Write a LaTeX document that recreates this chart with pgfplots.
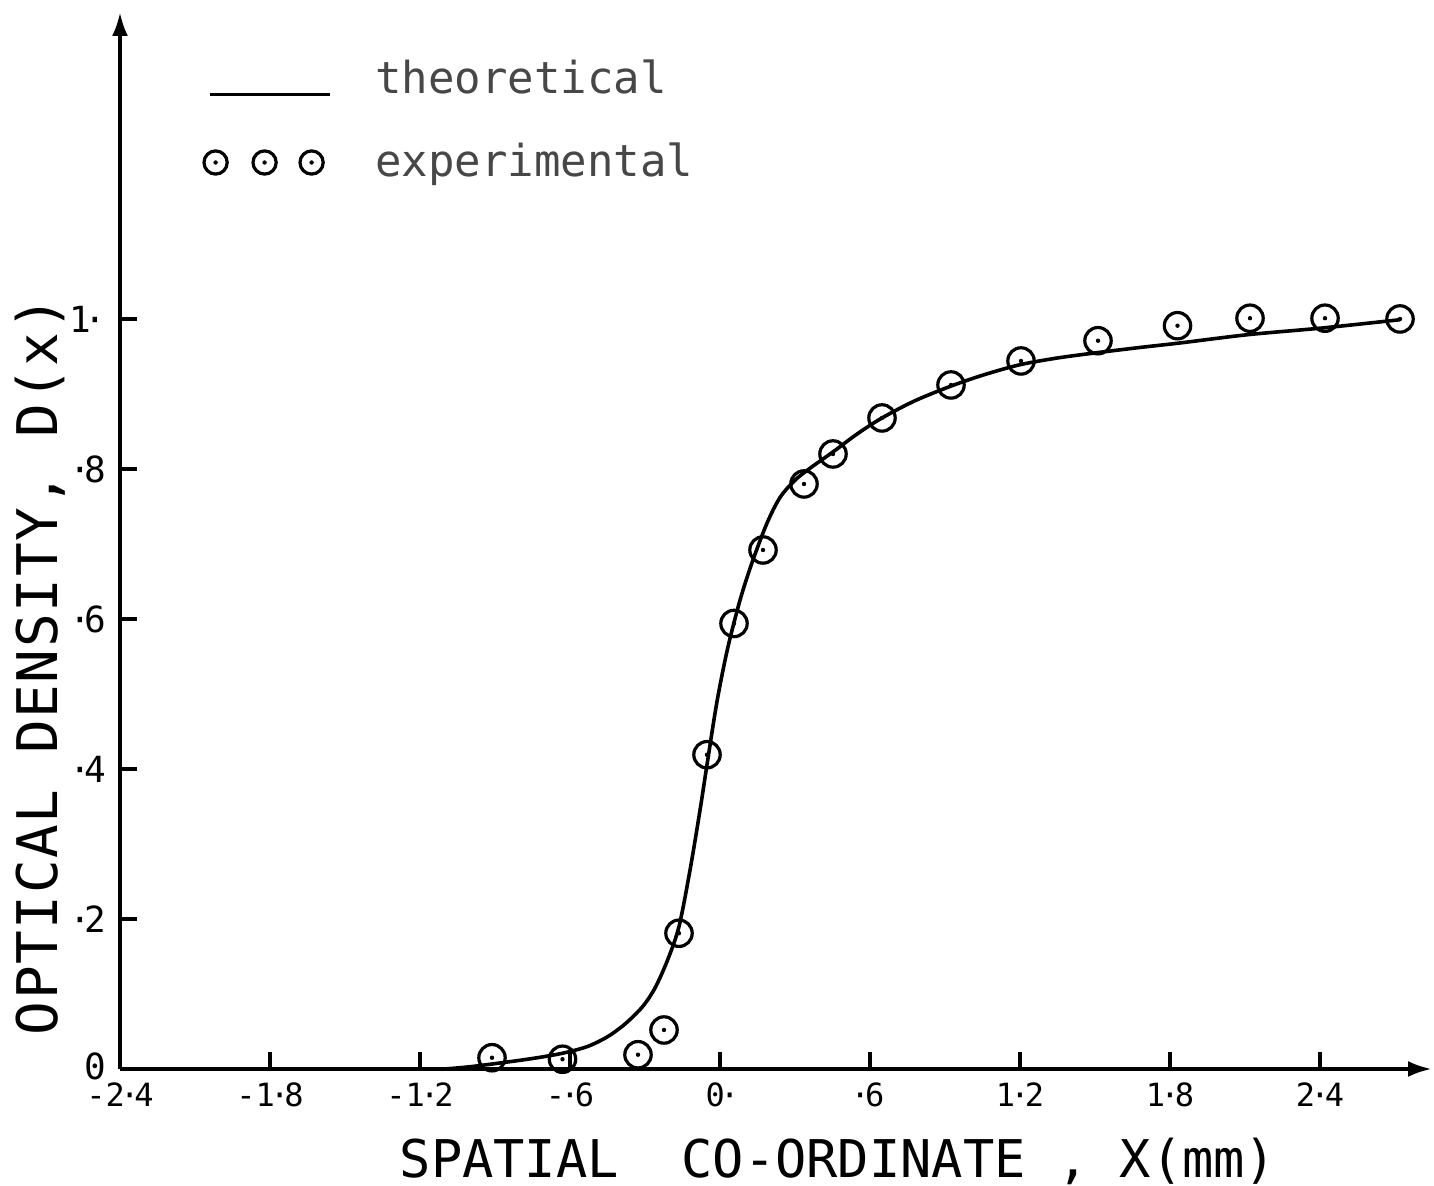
\documentclass[border=0pt]{standalone}
\usepackage{fontspec}
\setmonofont{DejaVu Sans Mono}
\usepackage{pgfplots}
\pgfplotsset{compat=1.18}
\usetikzlibrary{arrows.meta}
\pgfdeclareplotmark{odot}{%
  \pgfpathcircle{\pgfpointorigin}{\pgfplotmarksize}\pgfusepathqstroke
  \pgfpathcircle{\pgfpointorigin}{0.55pt}\pgfusepathqfill}
\newcommand{\pd}{\kern-1.2pt·\kern-1.2pt}
\newcommand{\pl}{·\kern-1.8pt}
\newcommand{\pr}{\kern-1.8pt·}
\begin{document}
\begin{tikzpicture}
\begin{axis}[
  scale only axis, width=328pt, height=264.25pt,
  xmin=-2.4, xmax=2.848, ymin=0, ymax=1.4093,
  axis lines=left,
  axis line style={line width=1pt},
  x axis line style={-{Latex[length=6pt,width=4pt]}},
  y axis line style={-{Latex[length=6pt,width=4pt]}},
  xtick={-2.4,-1.8,-1.2,-0.6,0,0.6,1.2,1.8,2.4},
  xticklabels={-2\pd4,-1\pd8,-1\pd2,-\pd6,0\pd,\pd6,1\pd2,1\pd8,2\pd4},
  ytick={0,0.2,0.4,0.6,0.8,1},
  yticklabels={\raisebox{1.5pt}{0},\pl2,\pl4,\pl6,\pl8,1\pr},
  tick align=inside, major tick length=4.3pt,
  every tick/.style={black, line width=1.2pt},
  xticklabel style={font=\ttfamily\fontsize{8}{9}\selectfont},
  yticklabel style={font=\ttfamily\fontsize{9}{10}\selectfont},
  clip=false,
  legend style={at={(axis cs:-2.076,1.357)}, anchor=north west, draw=none, fill=none,
    font=\ttfamily\fontsize{11}{13}\selectfont, text=black!72, row sep=6.75pt,
    column sep=5pt, inner sep=0pt},
  legend cell align=left,
]
\addplot[line width=0.9pt, smooth, tension=0.5,
  legend image code/.code={\path (-1.5pt,0pt); \path (34pt,0pt);
    \draw[line width=0.9pt] (0pt,-3.7pt) -- (30pt,-3.7pt);}]
  coordinates {
  (-1.1,0) (-1.0,0.003) (-0.88,0.008) (-0.75,0.014) (-0.63,0.021) (-0.53,0.03)
  (-0.45,0.043) (-0.38,0.06) (-0.31,0.083) (-0.26,0.108) (-0.21,0.145) (-0.164,0.19)
  (-0.12,0.265) (-0.08,0.345) (-0.05,0.41) (-0.012,0.49) (0.03,0.56) (0.08,0.625)
  (0.128,0.675) (0.187,0.727) (0.24,0.762) (0.3,0.785) (0.36,0.801) (0.453,0.823)
  (0.55,0.847) (0.648,0.868) (0.78,0.891) (0.928,0.911) (1.06,0.926) (1.2,0.939)
  (1.35,0.948) (1.507,0.955) (1.68,0.962) (1.84,0.968) (2.11,0.979) (2.41,0.988)
  (2.72,0.999)
  };
\addlegendentry{theoretical}
\addplot[only marks, mark=odot, mark size=3.3pt, mark options={line width=0.8pt},
  legend image code/.code={\path (-1.5pt,0pt); \path (34pt,0pt);
    \path[draw=none, mark=odot, mark size=2.9pt, line width=0.8pt] plot[only marks] coordinates {(1.5pt,0pt) (13.75pt,0pt) (25.5pt,0pt)};}]
  coordinates {
  (-0.912,0.015) (-0.63,0.013) (-0.328,0.019) (-0.224,0.052) (-0.164,0.181)
  (-0.052,0.419) (0.056,0.594) (0.172,0.692) (0.336,0.78) (0.452,0.82)
  (0.648,0.868) (0.924,0.912) (1.204,0.944) (1.512,0.971) (1.83,0.991)
  (2.12,1.001) (2.42,1.001) (2.72,1.0)
  };
\addlegendentry{experimental}
\node[rotate=90, anchor=base, font=\ttfamily\fontsize{14}{15}\selectfont\addfontfeature{LetterSpace=3}]
  at (axis cs:-2.65,0.537) {OPTICAL DENSITY, D(x)};
\node[anchor=base, font=\ttfamily\fontsize{13}{14}\selectfont]
  at (axis cs:0.472,-0.1453) {SPATIAL\ \ CO-ORDINATE\ ,\ X(mm)};
\coordinate (bbsw) at (axis cs:-2.88,-0.156);
\coordinate (bbne) at (axis cs:2.856,1.4253);
\end{axis}
\pgfresetboundingbox
\path (bbsw) rectangle (bbne);
\end{tikzpicture}
\end{document}
